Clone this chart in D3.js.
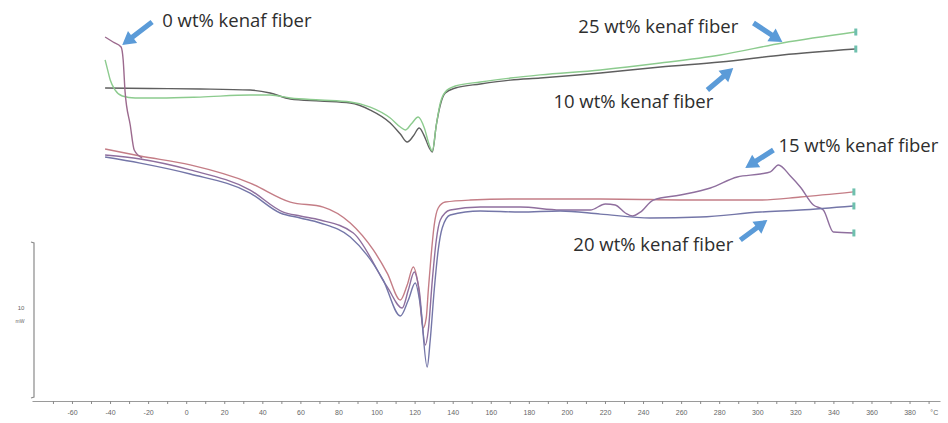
<!DOCTYPE html>
<html>
<head>
<meta charset="utf-8">
<script src="https://cdn.jsdelivr.net/npm/d3@7"></script>
<style>
  body { margin: 0; background: #fff; }
  svg { display: block; }
</style>
</head>
<body>
<div id="chart"></div>
<script>
/* CONSTANTS AND GLOBALS */
const width = 948;
const height = 423;

/* DATA  (temperature in °C, heat flow in mW) */
const temp0 = [-42.6, -38.4, -34.2, -33.1, -32.1, -29.4, -27.3, -23.1];
const flow0 = [23.14, 22.82, 22.50, 21.67, 19.62, 17.50, 15.90, 15.38];

const temp10 = [-42.6, -18.9, 7.4, 33.6, 44.1, 54.7, 70.4, 86.2, 96.7, 107.2, 112.5, 116.1, 119.3, 122.4, 125.1, 127.7, 129.3, 131.4, 133.5, 136.1, 141.4, 154.5, 170.3, 186.0, 217.6, 249.1, 280.6, 313.2, 351.5];
const flow10 = [19.87, 19.84, 19.81, 19.74, 19.55, 19.17, 19.04, 18.91, 18.46, 17.63, 16.92, 16.41, 16.79, 17.31, 16.79, 16.03, 15.77, 17.50, 18.78, 19.55, 19.87, 20.13, 20.38, 20.51, 20.83, 21.22, 21.54, 21.99, 22.37];

const temp25 = [-42.6, -41.5, -39.9, -37.3, -33.6, -26.8, -13.7, 7.4, 33.6, 44.1, 54.7, 70.4, 86.2, 96.7, 107.2, 112.5, 115.1, 118.2, 121.9, 125.1, 127.7, 129.3, 131.4, 133.5, 136.1, 141.4, 154.5, 170.3, 186.0, 217.6, 249.1, 280.6, 313.2, 351.5];
const flow25 = [21.67, 21.15, 20.38, 19.74, 19.36, 19.23, 19.23, 19.29, 19.42, 19.42, 19.23, 19.10, 18.97, 18.65, 17.95, 17.37, 17.18, 17.56, 18.01, 17.31, 16.22, 15.83, 17.50, 18.91, 19.62, 20.00, 20.26, 20.51, 20.71, 21.03, 21.47, 21.99, 22.76, 23.46];

const tempRed = [-42.6, -24.2, 2.1, 33.6, 54.7, 72.0, 86.2, 98.3, 105.6, 112.5, 116.1, 119.3, 121.9, 124.5, 126.1, 127.2, 128.7, 130.3, 132.4, 136.1, 149.2, 175.5, 217.6, 270.1, 301.6, 322.6, 350.5];
const flowRed = [15.96, 15.51, 14.94, 13.78, 12.56, 12.24, 11.22, 9.49, 8.01, 6.28, 7.24, 8.40, 7.24, 4.49, 5.13, 6.92, 9.17, 11.09, 12.18, 12.56, 12.69, 12.76, 12.76, 12.69, 12.69, 12.88, 13.21];

const temp15 = [-42.6, -24.2, 2.1, 33.6, 51.0, 59.9, 70.4, 87.8, 105.6, 113.5, 116.7, 119.8, 122.4, 125.6, 127.2, 129.3, 131.4, 133.5, 138.7, 154.5, 175.5, 196.5, 212.3, 220.2, 225.4, 230.7, 234.4, 238.6, 245.4, 259.6, 275.4, 289.5, 301.6, 306.9, 311.1, 317.4, 322.6, 329.5, 334.7, 340.0, 350.5];
const flow15 = [15.58, 15.32, 14.62, 13.33, 11.92, 11.67, 11.41, 10.58, 7.12, 5.77, 6.92, 8.08, 6.92, 3.40, 4.36, 7.56, 10.13, 11.41, 12.05, 12.24, 12.24, 12.05, 12.05, 12.44, 12.37, 11.86, 11.67, 11.92, 12.69, 13.01, 13.46, 14.17, 14.36, 14.49, 14.94, 14.23, 13.53, 12.37, 12.05, 10.64, 10.58];

const temp20 = [-42.6, -24.2, 2.1, 33.6, 49.4, 59.9, 70.4, 86.2, 103.5, 112.5, 116.7, 120.3, 123.0, 126.6, 128.2, 130.3, 132.4, 134.5, 138.7, 154.5, 175.5, 196.5, 217.6, 243.8, 270.1, 301.6, 322.6, 350.5];
const flow20 = [15.45, 15.06, 14.36, 13.14, 11.86, 11.54, 11.22, 10.32, 7.56, 5.26, 6.28, 7.37, 5.96, 1.99, 3.72, 6.92, 9.49, 10.90, 11.73, 11.99, 11.92, 11.99, 11.79, 11.54, 11.60, 11.92, 12.05, 12.31];

const seriesNames = ["0 wt%", "10 wt%", "25 wt%", "ref", "15 wt%", "20 wt%"];
const seriesColors = ["#9c6a8e", "#5f5f5f", "#8ccb8e", "#c47d86", "#8f6f9e", "#7476a8"];

// labels: text, label position, arrow tail, arrow head (°C, mW)
const labelTexts = ["0 wt% kenaf fiber", "25 wt% kenaf fiber", "10 wt% kenaf fiber", "15 wt% kenaf fiber", "20 wt% kenaf fiber"];
const labelPos = [[-12.6, 23.78], [206.0, 23.40], [192.9, 18.59], [311.1, 15.77], [203.4, 9.42]];
const arrowTail = [[-17.9, 24.10], [298.0, 24.04], [273.8, 19.74], [308.5, 15.90], [291.1, 10.13]];
const arrowHead = [[-33.6, 22.63], [313.2, 22.82], [287.4, 21.15], [293.7, 14.74], [305.3, 11.41]];

const tickValues = d3.range(-70, 391, 10);
const scaleBarValue = 10;

/* SCALES */
const xScale = d3.scaleLinear()
  .domain([-81, 396])
  .range([32, 940]);

const yScale = d3.scaleLinear()
  .domain([0, scaleBarValue])
  .range([398, 242]);

/* HTML ELEMENTS */
const svg = d3.select("#chart")
  .append("svg")
  .attr("width", width)
  .attr("height", height);

// x axis
const xAxis = d3.axisBottom(xScale)
  .tickValues(tickValues)
  .tickSize(3)
  .tickSizeOuter(0)
  .tickFormat(d => d % 20 === 0 && d >= -60 && d <= 380 ? d : "");

const gx = svg.append("g")
  .attr("transform", `translate(0,${yScale(0) + 3})`)
  .call(xAxis);
gx.select(".domain").attr("stroke", "#9a9a9a").attr("stroke-width", 1.2);
gx.selectAll(".tick line").attr("stroke", "#8a8a8a");
gx.selectAll(".tick text")
  .attr("fill", "#666")
  .attr("font-family", "Liberation Sans, Arial, sans-serif")
  .attr("font-size", 7)
  .attr("dy", "1.2em");

svg.append("text")
  .attr("x", xScale(393))
  .attr("y", yScale(0) + 17)
  .attr("text-anchor", "middle")
  .attr("fill", "#666")
  .attr("font-family", "Liberation Sans, Arial, sans-serif")
  .attr("font-size", 7)
  .text("°C");

// scale bar (10 mW)
const barX = 34;
svg.append("path")
  .attr("d", `M${barX - 3},${yScale(scaleBarValue)} L${barX},${yScale(scaleBarValue) + 1} L${barX},${yScale(0) - 1} L${barX - 3},${yScale(0)}`)
  .attr("fill", "none")
  .attr("stroke", "#8a8a8a")
  .attr("stroke-width", 1.2);
svg.append("text")
  .attr("x", 21).attr("y", yScale(scaleBarValue / 2) - 10)
  .attr("text-anchor", "middle")
  .attr("fill", "#666")
  .attr("font-family", "Liberation Sans, Arial, sans-serif")
  .attr("font-size", 6)
  .text(scaleBarValue);
svg.append("text")
  .attr("x", 20).attr("y", yScale(scaleBarValue / 2) + 3)
  .attr("text-anchor", "middle")
  .attr("fill", "#666")
  .attr("font-family", "Liberation Sans, Arial, sans-serif")
  .attr("font-size", 5)
  .text("mW");

/* CURVES */
const temps = [temp0, temp10, temp25, tempRed, temp15, temp20];
const flows = [flow0, flow10, flow25, flowRed, flow15, flow20];
const series = seriesNames.map((name, i) => ({
  name: name,
  color: seriesColors[i],
  values: temps[i].map((t, j) => ({ t: t, v: flows[i][j] }))
}));

const line = d3.line()
  .x(d => xScale(d.t))
  .y(d => yScale(d.v))
  .curve(d3.curveMonotoneX);

// draw lower group first, then upper
svg.selectAll("path.curve")
  .data([series[3], series[4], series[5], series[1], series[2], series[0]])
  .join("path")
  .attr("class", "curve")
  .attr("d", d => line(d.values))
  .attr("fill", "none")
  .attr("stroke", d => d.color)
  .attr("stroke-width", 1.4)
  .attr("stroke-linejoin", "round");

// teal end markers
svg.selectAll("rect.endmark")
  .data(series.filter(s => s.name !== "0 wt%"))
  .join("rect")
  .attr("class", "endmark")
  .attr("x", d => xScale(d.values[d.values.length - 1].t) - 1)
  .attr("y", d => yScale(d.values[d.values.length - 1].v) - 3.5)
  .attr("width", 3)
  .attr("height", 7)
  .attr("fill", "#6fc0ae");

/* ANNOTATIONS */
function arrowPath(tail, head) {
  const x1 = xScale(tail[0]), y1 = yScale(tail[1]);
  const x2 = xScale(head[0]), y2 = yScale(head[1]);
  const ang = Math.atan2(y2 - y1, x2 - x1);
  const len = Math.hypot(x2 - x1, y2 - y1);
  const headLen = 13, headW = 7.5, shaftW = 2.6;
  const ux = Math.cos(ang), uy = Math.sin(ang);
  const px = -uy, py = ux;
  const bx = x1 + ux * (len - headLen), by = y1 + uy * (len - headLen);
  const pts = [
    [x1 + px * shaftW, y1 + py * shaftW],
    [bx + px * shaftW, by + py * shaftW],
    [bx + px * headW, by + py * headW],
    [x2, y2],
    [bx - px * headW, by - py * headW],
    [bx - px * shaftW, by - py * shaftW],
    [x1 - px * shaftW, y1 - py * shaftW]
  ];
  return "M" + pts.map(p => p.join(",")).join("L") + "Z";
}

svg.selectAll("path.arrow")
  .data(labelTexts)
  .join("path")
  .attr("class", "arrow")
  .attr("d", (d, i) => arrowPath(arrowTail[i], arrowHead[i]))
  .attr("fill", "#5b9bd8");

svg.selectAll("text.label")
  .data(labelTexts)
  .join("text")
  .attr("class", "label")
  .attr("x", (d, i) => xScale(labelPos[i][0]))
  .attr("y", (d, i) => yScale(labelPos[i][1]))
  .attr("fill", "#2e2e2e")
  .attr("font-family", "Open Sans, sans-serif")
  .attr("font-size", 18.5)
  .text(d => d);
</script>
</body>
</html>
